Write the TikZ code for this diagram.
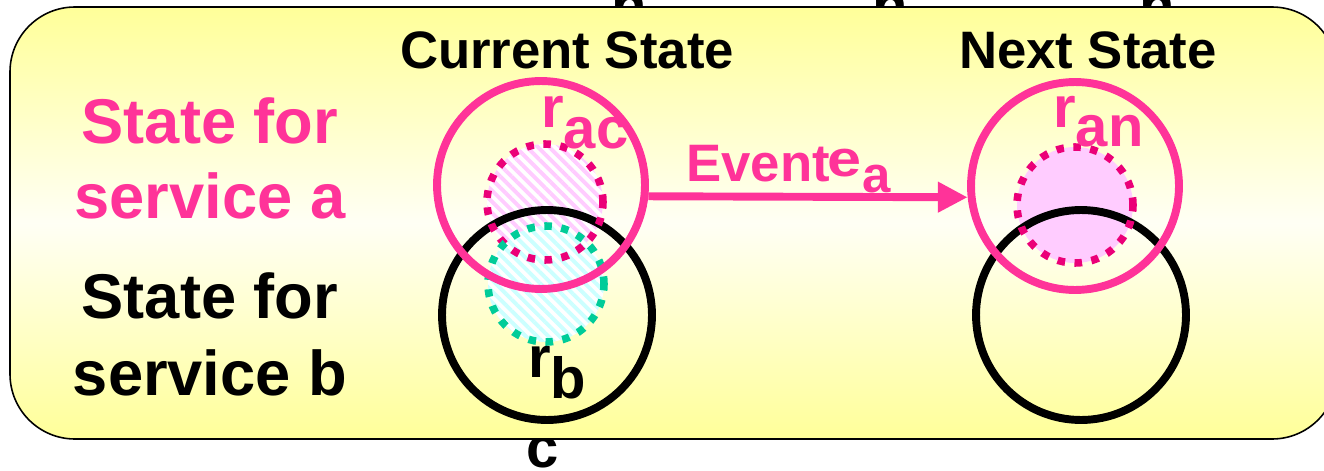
\documentclass[tikz,border=0pt]{standalone}
\usepackage{fontspec}
\setmainfont{Liberation Sans}
\usetikzlibrary{arrows.meta,patterns.meta}
\definecolor{yelbg}{HTML}{FFFF99}
\definecolor{pinkA}{HTML}{FF3399}
\definecolor{magdot}{HTML}{EB0078}
\definecolor{greendot}{HTML}{00CC99}
\definecolor{pinkfill}{HTML}{FFCCFF}
\definecolor{cyanfill}{HTML}{CCFFFF}
\begin{document}
\begin{tikzpicture}[x=0.02cm,y=-0.02cm,
  lbl/.style={font=\bfseries\fontsize{36}{43}\selectfont, inner sep=0pt, anchor=base},
  ttl/.style={font=\bfseries\fontsize{30}{36}\selectfont, inner sep=0pt, anchor=base},
  sym/.style={font=\bfseries\fontsize{33}{40}\selectfont, inner sep=0pt, anchor=base west},
  ring/.style={circle, draw, line width=4.5pt, minimum size=4.16cm, inner sep=0pt},
  blob/.style={circle, minimum size=2.32cm, inner sep=0pt},
  hatchpink/.style={preaction={fill=white}, pattern={Lines[angle=-45,distance=4.5pt,line width=2.2pt]}, pattern color=pinkfill},
  hatchcyan/.style={preaction={fill=white}, pattern={Lines[angle=-45,distance=4.5pt,line width=2.2pt]}, pattern color=cyanfill},
  dots/.style={line width=4.3pt, dash pattern=on 4.3pt off 5.4pt},
  frame/.style={draw=black, line width=0.9pt, top color=yelbg, bottom color=yelbg, middle color=yelbg!10, rounded corners=1.3cm}
]
\useasboundingbox (0,0) rectangle (1324,470);
% letters partly hidden behind the frame
\node[sym, anchor=base] (t1) at (629,26) {n};
\node[sym, anchor=base] (t2) at (890,26) {n};
\node[sym, anchor=base] (t3) at (1157,26) {n};
\node[sym, anchor=base] (cc) at (543,467) {c};
% frame
\draw[frame] (10,7) rectangle (1337,439);
% titles
\node[ttl] (cs) at (567,68) {Current State};
\node[ttl] (ns) at (1088,68) {Next State};
% side labels
\node[lbl, text=pinkA] (sa1) at (210,143) {State for};
\node[lbl, text=pinkA] (sa2) at (210,218) {service a};
\node[lbl] (sb1) at (210,318) {State for};
\node[lbl] (sb2) at (210,395) {service b};
% region fills
\node[blob, hatchpink] (curRa) at (545,202) {};
\node[blob, hatchcyan] (curRb) at (546,284) {};
\node[blob, fill=pinkfill] (nxtRa) at (1075,205) {};
% black rings
\node[ring, draw=black, minimum size=4.2cm] (curB) at (547,315) {};
\node[ring, draw=black, minimum size=4.2cm] (nxtB) at (1081,315) {};
% dotted outlines
\draw[dots, magdot] (curRa.center) circle[radius=1.16cm];
\draw[dots, greendot] (curRb.center) circle[radius=1.16cm];
\draw[dots, magdot] (nxtRa.center) circle[radius=1.16cm];
% pink rings
\node[ring, draw=pinkA] (curA) at (541,185) {};
\node[ring, draw=pinkA] (nxtA) at (1075,186) {};
% event arrow
\draw[pinkA, line width=4.5pt, -{Triangle[length=17pt,width=16.5pt]}] (curA.-6) -- (nxtA.186);
\node[anchor=base west, inner sep=0pt, font=\bfseries\fontsize{30}{36}\selectfont, text=pinkA] (ev) at (686,181)
  {Event\kern-1.5pt\raisebox{2.3pt}{\fontsize{29}{34}\selectfont\scalebox{1.2}[1]{e}}\kern0.5pt\raisebox{-6.8pt}{\fontsize{29}{34}\selectfont a}};
% region labels
\node[sym, text=pinkA] (rac) at (541,127) {r\raisebox{-12pt}{ac}};
\node[sym, text=pinkA] (ran) at (1053,127) {r\raisebox{-11pt}{an}};
\node[sym] (rb) at (528,377) {r\raisebox{-12pt}{b}};
\end{tikzpicture}
\end{document}
